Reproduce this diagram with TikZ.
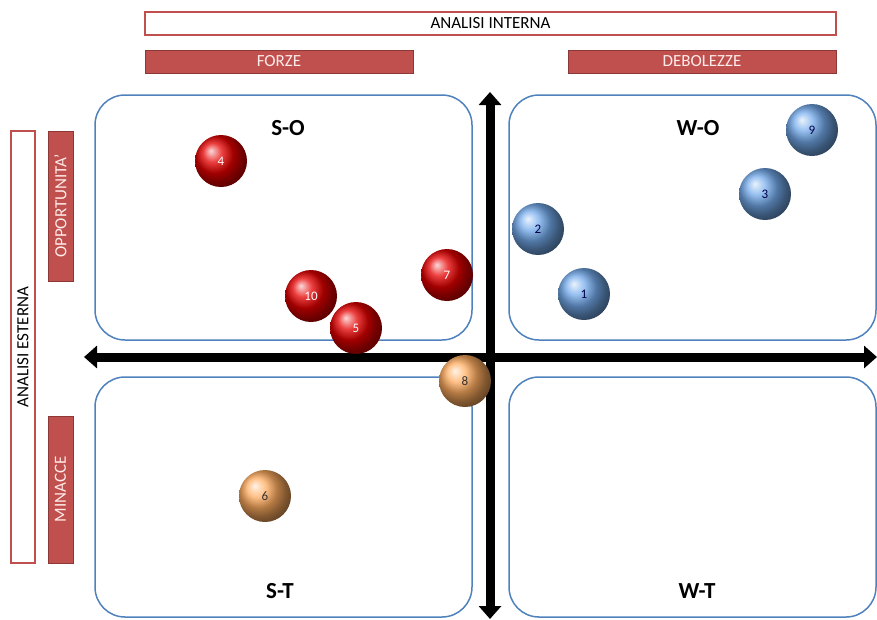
\documentclass[tikz,border=0pt]{standalone}
\usepackage{fontspec}
\setmainfont{Carlito}
\usetikzlibrary{arrows.meta,shadows}
\definecolor{swred}{HTML}{C0504D}
\definecolor{swredd}{HTML}{8C3836}
\definecolor{swblue}{HTML}{4F81BD}
\definecolor{ballblue}{RGB}{115,170,235}
\definecolor{ballorange}{RGB}{255,172,95}
\tikzset{
  hdrbox/.style={draw=swred, line width=1.6pt, fill=white, inner sep=0pt, font=\fontsize{17}{19}\selectfont},
  redbox/.style={draw=swredd, line width=0.6pt, fill=swred, text=white!92!red, inner sep=0pt, font=\fontsize{17}{19}\selectfont, drop shadow={shadow xshift=1pt,shadow yshift=-1pt,opacity=0.3}},
  quad/.style={draw=swblue, line width=1.5pt, rounded corners=30pt},
  qlabel/.style={font=\bfseries\fontsize{23}{25}\selectfont},
  axis/.style={line width=9pt, {Triangle[length=13pt,width=22pt]}-{Triangle[length=13pt,width=22pt]}},
  redball/.style={circle, minimum size=52pt, inner sep=0pt, ball color=red!90!black, text=white, font=\fontsize{13}{14}\selectfont},
  blueball/.style={circle, minimum size=52pt, inner sep=0pt, ball color=ballblue, text=black!70!blue, font=\fontsize{13}{14}\selectfont},
  orangeball/.style={circle, minimum size=52pt, inner sep=0pt, ball color=ballorange, text=black!80, font=\fontsize{13}{14}\selectfont},
}
\begin{document}
\begin{tikzpicture}[x=1pt,y=-1pt]
\useasboundingbox (0,0) rectangle (877,619);
% header boxes
\node[hdrbox, minimum width=691pt, minimum height=23pt] (ai) at (490.5,23.5) {ANALISI INTERNA};
\node[redbox, minimum width=268pt, minimum height=23pt] (forze) at (279,61.5) {FORZE};
\node[redbox, minimum width=268pt, minimum height=23pt] (deb) at (702,61.5) {DEBOLEZZE};
\node[hdrbox, rotate=90, minimum width=432pt, minimum height=24pt] (ae) at (23,347) {ANALISI ESTERNA};
\node[redbox, rotate=90, minimum width=150pt, minimum height=25pt] (opp) at (60.5,206) {OPPORTUNITA'};
\node[redbox, rotate=90, minimum width=147pt, minimum height=25pt] (min) at (60.5,489.5) {MINACCE};
% quadrants
\draw[quad] (95,95) rectangle (472,340);
\draw[quad] (509,95) rectangle (876,340);
\draw[quad] (95,377) rectangle (472,617);
\draw[quad] (509,377) rectangle (876,617);
\node[qlabel] (so) at (288,128) {S-O};
\node[qlabel] (wo) at (698,128) {W-O};
\node[qlabel] (st) at (280,591) {S-T};
\node[qlabel] (wt) at (697,591) {W-T};
% axes
\coordinate (axL) at (84,357);
\coordinate (axR) at (877,357);
\coordinate (axT) at (490,92);
\coordinate (axB) at (490,619);
\draw[axis] (axL) -- (axR);
\draw[axis] (axB) -- (axT);
% balls
\node[redball] (b4) at (221,161) {4};
\node[redball] (b10) at (311,296) {10};
\node[redball] (b5) at (356,328) {5};
\node[redball] (b7) at (447,275) {7};
\node[orangeball] (b8) at (465,381) {8};
\node[orangeball] (b6) at (265,496) {6};
\node[blueball] (b2) at (538,229) {2};
\node[blueball] (b1) at (584,294) {1};
\node[blueball] (b3) at (765,194) {3};
\node[blueball] (b9) at (812,130) {9};
\end{tikzpicture}
\end{document}
